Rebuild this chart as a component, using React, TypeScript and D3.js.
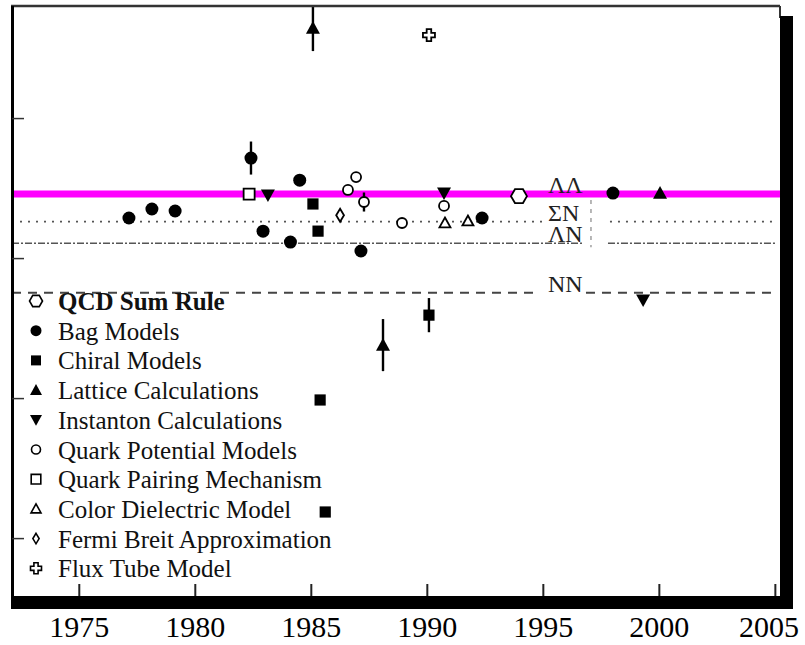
import { useEffect, useRef } from "react";
import * as d3 from "d3";

const WIDTH = 805;
const HEIGHT = 645;
const FRAME = { left: 12, top: 6, right: 780, bottom: 596 };
const FONT = "'Liberation Serif', 'Times New Roman', serif";

// x = year of the prediction, y = predicted mass (MeV)
const YEAR_TICKS = [1975, 1980, 1985, 1990, 1995, 2000, 2005];
const MASS_TICKS = [1000, 1500, 2000, 2500];

const THRESHOLD_LABELS = ["ΛΛ", "ΣN", "ΛN", "NN"];
const THRESHOLD_MASS = [2231, 2132, 2055, 1878];
const THRESHOLD_LABEL_YEAR = 1995.2;

type Pt = [number, number, number?]; // year, mass, error

const QCD_SUM_RULE: Pt[] = [[1993.95, 2223]];
const BAG_MODELS: Pt[] = [
  [1977.14, 2145], [1978.13, 2177], [1979.13, 2170], [1982.4, 2359, 59],
  [1982.92, 2098], [1984.1, 2059], [1984.5, 2280], [1987.14, 2027],
  [1992.36, 2145], [1998.0, 2234],
];
const CHIRAL_MODELS: Pt[] = [
  [1985.07, 2195], [1985.29, 2098], [1990.07, 1798, 61], [1985.38, 1495], [1985.6, 1095],
];
const LATTICE: Pt[] = [[1985.07, 2823, 82], [1988.09, 1691, 93], [2000.03, 2234]];
const INSTANTON: Pt[] = [[1983.13, 2227], [1990.72, 2234], [1999.3, 1852]];
const QUARK_POTENTIAL: Pt[] = [
  [1986.58, 2245], [1986.93, 2291], [1987.27, 2202, 34], [1988.91, 2127], [1990.72, 2188],
];
const QUARK_PAIRING: Pt[] = [[1982.32, 2230]];
const COLOR_DIELECTRIC: Pt[] = [[1990.76, 2127], [1991.75, 2134]];
const FERMI_BREIT: Pt[] = [[1986.24, 2155]];
const FLUX_TUBE: Pt[] = [[1990.07, 2798]];

const SERIES = [
  { name: "QCD Sum Rule", data: QCD_SUM_RULE, shape: "hexagon", open: true, size: 8, legendSize: 6.5, bold: true },
  { name: "Bag Models", data: BAG_MODELS, shape: "circle", open: false, size: 6.5, legendSize: 5.5 },
  { name: "Chiral Models", data: CHIRAL_MODELS, shape: "square", open: false, size: 5.6, legendSize: 5 },
  { name: "Lattice Calculations", data: LATTICE, shape: "triUp", open: false, size: 7, legendSize: 6 },
  { name: "Instanton Calculations", data: INSTANTON, shape: "triDown", open: false, size: 7, legendSize: 6 },
  { name: "Quark Potential Models", data: QUARK_POTENTIAL, shape: "circle", open: true, size: 5, legendSize: 4.5 },
  { name: "Quark Pairing Mechanism", data: QUARK_PAIRING, shape: "square", open: true, size: 5.5, legendSize: 4.8 },
  { name: "Color Dielectric Model", data: COLOR_DIELECTRIC, shape: "triUp", open: true, size: 5.5, legendSize: 5 },
  { name: "Fermi Breit Approximation", data: FERMI_BREIT, shape: "diamond", open: true, size: 6.5, legendSize: 5.2 },
  { name: "Flux Tube Model", data: FLUX_TUBE, shape: "cross", open: true, size: 6, legendSize: 5.5 },
];

function shapePath(shape: string, s: number) {
  const p = d3.path();
  const poly = (pts: [number, number][]) => {
    pts.forEach(([x, y], i) => (i ? p.lineTo(x, y) : p.moveTo(x, y)));
    p.closePath();
  };
  switch (shape) {
    case "circle":
      p.moveTo(s, 0);
      p.arc(0, 0, s, 0, Math.PI * 2);
      p.closePath();
      break;
    case "square":
      p.rect(-s, -s, 2 * s, 2 * s);
      break;
    case "triUp":
      poly([[0, -s], [s, s * 0.8], [-s, s * 0.8]]);
      break;
    case "triDown":
      poly([[0, s], [s, -s * 0.8], [-s, -s * 0.8]]);
      break;
    case "diamond":
      poly([[0, -s], [s * 0.6, 0], [0, s], [-s * 0.6, 0]]);
      break;
    case "cross": {
      const a = s * 0.38;
      poly([
        [-a, -s], [a, -s], [a, -a], [s, -a], [s, a], [a, a],
        [a, s], [-a, s], [-a, a], [-s, a], [-s, -a], [-a, -a],
      ]);
      break;
    }
    case "hexagon":
      poly(d3.range(6).map((k) => [s * Math.cos((k * Math.PI) / 3), s * Math.sin((k * Math.PI) / 3)] as [number, number]));
      break;
  }
  return p.toString();
}

export default function App() {
  const svgRef = useRef<SVGSVGElement>(null);

  useEffect(() => {
    const svg = d3.select(svgRef.current);
    svg.selectAll("*").remove();

    const x = d3.scaleLinear().domain([1972.1, 2005.2]).range([FRAME.left, FRAME.right]);
    const y = d3.scaleLinear().domain([795, 2902]).range([FRAME.bottom, FRAME.top]);

    svg.append("rect").attr("width", WIDTH).attr("height", HEIGHT).attr("fill", "#fff");

    // threshold lines, broken around their labels
    const labelX = x(THRESHOLD_LABEL_YEAR);
    const styles = [
      { stroke: "#ff00ff", width: 7, dash: null, gap: null },
      { stroke: "#555", width: 1.6, dash: "2,6", gap: [labelX - 3, labelX + 62] },
      { stroke: "#555", width: 1.6, dash: "7,2,2,2", gap: [labelX + 35, labelX + 60] },
      { stroke: "#444", width: 1.8, dash: "9,7", gap: [labelX - 8, labelX + 38] },
    ];
    THRESHOLD_MASS.forEach((m, i) => {
      const st = styles[i];
      const segs = st.gap
        ? [[FRAME.left, st.gap[0]], [st.gap[1], FRAME.right - 5]]
        : [[FRAME.left, FRAME.right]];
      segs.forEach(([a, b]) => {
        svg.append("line")
          .attr("x1", a).attr("x2", b)
          .attr("y1", y(m)).attr("y2", y(m))
          .attr("stroke", st.stroke)
          .attr("stroke-width", st.width)
          .attr("stroke-dasharray", st.dash);
      });
      svg.append("text")
        .attr("x", labelX)
        .attr("y", y(m) - 1)
        .attr("font-family", FONT)
        .attr("font-size", 24)
        .attr("fill", "#222")
        .text(THRESHOLD_LABELS[i]);
    });
    // faint separator next to the labels
    svg.append("line")
      .attr("x1", labelX + 43).attr("x2", labelX + 43)
      .attr("y1", y(THRESHOLD_MASS[0]) + 6).attr("y2", y(THRESHOLD_MASS[2]) + 4)
      .attr("stroke", "#888").attr("stroke-width", 1.2).attr("stroke-dasharray", "4,5");

    // error bars then markers
    const marks = svg.append("g");
    SERIES.forEach((s) => {
      s.data.forEach(([yr, m, err]) => {
        if (err) {
          marks.append("line")
            .attr("x1", x(yr)).attr("x2", x(yr))
            .attr("y1", Math.max(FRAME.top, y(m + err))).attr("y2", y(m - err))
            .attr("stroke", "#000").attr("stroke-width", 2.4);
        }
      });
    });
    SERIES.forEach((s) => {
      s.data.forEach(([yr, m]) => {
        marks.append("path")
          .attr("transform", `translate(${x(yr)},${y(m)})`)
          .attr("d", shapePath(s.shape, s.size))
          .attr("fill", s.open ? "#fff" : "#000")
          .attr("stroke", s.open ? "#000" : "none")
          .attr("stroke-width", 1.8);
      });
    });

    // legend
    const legend = svg.append("g");
    SERIES.forEach((s, i) => {
      const ly = 301 + i * 29.7;
      legend.append("path")
        .attr("transform", `translate(36,${ly})`)
        .attr("d", shapePath(s.shape, s.legendSize))
        .attr("fill", s.open ? "#fff" : "#000")
        .attr("stroke", s.open ? "#000" : "none")
        .attr("stroke-width", 1.6);
      legend.append("text")
        .attr("x", 58)
        .attr("y", ly + 9)
        .attr("font-family", FONT)
        .attr("font-size", 25)
        .attr("font-weight", s.bold ? "bold" : "normal")
        .attr("fill", "#111")
        .text(s.name);
    });

    // frame
    svg.append("line")
      .attr("x1", FRAME.left - 1).attr("x2", FRAME.right)
      .attr("y1", FRAME.top).attr("y2", FRAME.top)
      .attr("stroke", "#333").attr("stroke-width", 2.5);
    svg.append("line")
      .attr("x1", FRAME.left + 0.5).attr("x2", FRAME.left + 0.5)
      .attr("y1", FRAME.top).attr("y2", FRAME.bottom)
      .attr("stroke", "#000").attr("stroke-width", 3);
    svg.append("line")
      .attr("x1", FRAME.right).attr("x2", FRAME.right)
      .attr("y1", FRAME.top).attr("y2", FRAME.top + 12)
      .attr("stroke", "#333").attr("stroke-width", 2);
    svg.append("rect")
      .attr("x", FRAME.right).attr("y", FRAME.top + 10)
      .attr("width", 13).attr("height", FRAME.bottom - FRAME.top + 3)
      .attr("fill", "#000");
    svg.append("rect")
      .attr("x", FRAME.left - 1).attr("y", FRAME.bottom)
      .attr("width", FRAME.right + 13 - FRAME.left + 1).attr("height", 13)
      .attr("fill", "#000");

    // left ticks (no labels)
    MASS_TICKS.forEach((t) => {
      svg.append("line")
        .attr("x1", FRAME.left).attr("x2", FRAME.left + 12)
        .attr("y1", y(t)).attr("y2", y(t))
        .attr("stroke", "#333").attr("stroke-width", 1.5);
    });

    // bottom ticks and labels
    YEAR_TICKS.forEach((t, i) => {
      svg.append("line")
        .attr("x1", x(t)).attr("x2", x(t))
        .attr("y1", FRAME.bottom).attr("y2", FRAME.bottom - 12)
        .attr("stroke", "#222").attr("stroke-width", 2);
      const last = i === YEAR_TICKS.length - 1;
      svg.append("text")
        .attr("x", last ? WIDTH - 6 : x(t))
        .attr("y", 637)
        .attr("text-anchor", last ? "end" : "middle")
        .attr("font-family", FONT)
        .attr("font-size", 30)
        .attr("fill", "#000")
        .text(String(t));
    });
  }, []);

  return (
    <svg
      ref={svgRef}
      width={WIDTH}
      height={HEIGHT}
      style={{ position: "absolute", left: 0, top: 0 }}
    />
  );
}
